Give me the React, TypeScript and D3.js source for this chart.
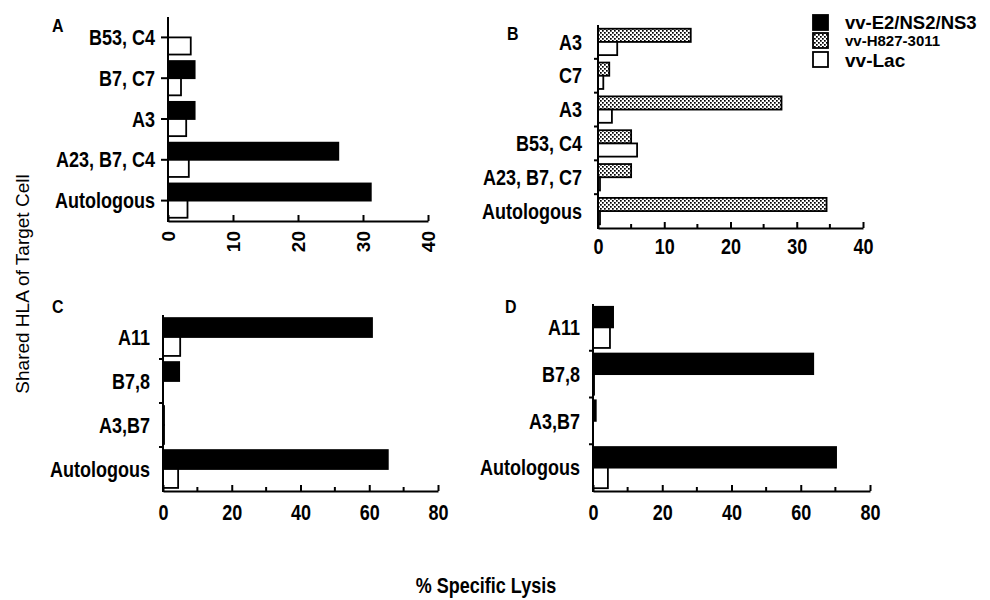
import React, { useEffect, useRef } from "react";
import * as d3 from "d3";

// series
const seriesNames = ["vv-E2/NS2/NS3", "vv-H827-3011", "vv-Lac"];

// panel A
const catsA = ["B53, C4", "B7, C7", "A3", "A23, B7, C4", "Autologous"];
const e2A = [0, 4.1, 4.1, 26.2, 31.2];
const lacA = [3.5, 2, 2.8, 3.2, 3];
const ticksA = [0, 10, 20, 30, 40];

// panel B
const catsB = ["A3", "C7", "A3 ", "B53, C4", "A23, B7, C7", "Autologous"];
const h827B = [14, 1.7, 27.7, 5, 5, 34.5];
const lacB = [2.9, 0.8, 2.1, 5.9, 0.3, 0.3];
const ticksB = [0, 10, 20, 30, 40];
const minorB = [5, 15, 25, 35];

// panel C
const catsC = ["A11", "B7,8", "A3,B7", "Autologous"];
const e2C = [60.8, 4.7, 0.3, 65.4];
const lacC = [5, 0, 0.3, 4.4];

// panel D
const catsD = ["A11", "B7,8", "A3,B7", "Autologous"];
const e2D = [5.8, 63.6, 0.8, 70.2];
const lacD = [4.9, 0.3, 0, 4.3];

const ticksCD = [0, 20, 40, 60, 80];
const minorCD = [10, 30, 50, 70];

const FONT = "'Liberation Sans', Arial, Helvetica, sans-serif";
const STRETCH = 1.18; // scanned type is taller than it is wide

function fillFor(name) {
  if (name === seriesNames[0]) return "#000";
  if (name === seriesNames[1]) return "url(#dots)";
  return "#fff";
}

function drawPanel(svg, p) {
  var g = svg.append("g");
  var x = d3.scaleLinear().domain([0, p.max]).range([p.left, p.right]);
  var y = d3.scaleBand().domain(p.cats).range([p.top, p.bottom]).padding(0);
  var bw = y.bandwidth();
  var inner = d3.scaleBand()
    .domain(p.series.map(function (s) { return s.name; }))
    .range([bw * (1 - p.fill) / 2, bw * (1 + p.fill) / 2]);

  // bars
  p.series.forEach(function (s) {
    g.selectAll(null)
      .data(p.cats)
      .enter().append("rect")
      .attr("x", x(0))
      .attr("y", function (c) { return y(c) + inner(s.name); })
      .attr("width", function (c, i) { return Math.max(0, x(s.values[i]) - x(0)); })
      .attr("height", inner.bandwidth())
      .attr("fill", fillFor(s.name))
      .attr("stroke", "#000")
      .attr("stroke-width", 1.8);
  });

  // x axis
  var xAxis = g.append("g")
    .attr("transform", "translate(0," + p.bottom + ")")
    .call(d3.axisBottom(x).tickValues(p.ticks).tickSize(-6).tickSizeOuter(0));
  xAxis.select(".domain").attr("stroke-width", 2);
  xAxis.selectAll(".tick line").attr("stroke-width", 2);
  xAxis.selectAll("text")
    .attr("font-family", FONT)
    .attr("font-weight", "bold")
    .attr("font-size", 18)
    .attr("fill", "#000");
  if (p.rotate) {
    xAxis.selectAll("text")
      .attr("transform", "rotate(-90)")
      .attr("text-anchor", "end")
      .attr("x", -10)
      .attr("y", 0)
      .attr("dy", "0.36em")
      .attr("font-size", 19);
  } else {
    xAxis.selectAll("text")
      .attr("y", 0)
      .attr("dy", 0)
      .attr("transform", "translate(0," + p.base + ") scale(1," + STRETCH + ")");
  }
  if (p.minor) {
    g.selectAll(null)
      .data(p.minor)
      .enter().append("line")
      .attr("x1", function (d) { return x(d); })
      .attr("x2", function (d) { return x(d); })
      .attr("y1", p.bottom)
      .attr("y2", p.bottom - 4)
      .attr("stroke", "#000")
      .attr("stroke-width", 2);
  }

  // y axis line
  g.append("line")
    .attr("x1", p.left).attr("x2", p.left)
    .attr("y1", p.top).attr("y2", p.bottom + 1)
    .attr("stroke", "#000")
    .attr("stroke-width", 2);

  // y ticks
  var tickYs = p.tickAtCenter
    ? p.cats.map(function (c) { return y(c) + bw / 2; })
    : p.cats.slice(1).map(function (c) { return y(c); });
  g.selectAll(null)
    .data(tickYs)
    .enter().append("line")
    .attr("x1", p.left - (p.tickAtCenter ? 7 : 4))
    .attr("x2", p.left)
    .attr("y1", function (d) { return d; })
    .attr("y2", function (d) { return d; })
    .attr("stroke", "#000")
    .attr("stroke-width", 2);

  // category labels
  g.selectAll(null)
    .data(p.cats)
    .enter().append("text")
    .attr("transform", function (c) {
      return "translate(" + (p.left - p.gap) + "," + (y(c) + bw / 2) + ") scale(1," + STRETCH + ")";
    })
    .attr("dy", "0.36em")
    .attr("text-anchor", "end")
    .attr("font-family", FONT)
    .attr("font-weight", "bold")
    .attr("font-size", 18)
    .text(function (c) { return c.trim(); });

  // panel letter
  g.append("text")
    .attr("transform", "translate(" + p.letterX + "," + p.letterY + ") scale(1," + STRETCH + ")")
    .attr("font-family", FONT)
    .attr("font-weight", "bold")
    .attr("font-size", 16)
    .text(p.letter);
}

export default function App() {
  const ref = useRef(null);

  useEffect(() => {
    var svg = d3.select(ref.current);
    svg.selectAll("*").remove();

    // dotted fill
    var pat = svg.append("defs").append("pattern")
      .attr("id", "dots")
      .attr("patternUnits", "userSpaceOnUse")
      .attr("width", 4)
      .attr("height", 4);
    pat.append("rect").attr("width", 4).attr("height", 4).attr("fill", "#fff");
    pat.append("rect").attr("x", 0).attr("y", 0).attr("width", 1.7).attr("height", 1.7).attr("fill", "#000");
    pat.append("rect").attr("x", 2).attr("y", 2).attr("width", 1.7).attr("height", 1.7).attr("fill", "#000");

    drawPanel(svg, {
      letter: "A", letterX: 52, letterY: 32,
      cats: catsA, max: 40, ticks: ticksA, rotate: true,
      series: [{ name: seriesNames[0], values: e2A }, { name: seriesNames[2], values: lacA }],
      left: 168, right: 428, top: 17, bottom: 221, fill: 0.84, tickAtCenter: true, gap: 13
    });
    drawPanel(svg, {
      letter: "B", letterX: 507, letterY: 40,
      cats: catsB, max: 40, ticks: ticksB, minor: minorB, base: 26,
      series: [{ name: seriesNames[1], values: h827B }, { name: seriesNames[2], values: lacB }],
      left: 598, right: 863, top: 25, bottom: 228, fill: 0.78, tickAtCenter: false, gap: 16
    });
    drawPanel(svg, {
      letter: "C", letterX: 52, letterY: 313,
      cats: catsC, max: 80, ticks: ticksCD, minor: minorCD, base: 29,
      series: [{ name: seriesNames[0], values: e2C }, { name: seriesNames[2], values: lacC }],
      left: 163, right: 438, top: 315, bottom: 491, fill: 0.86, tickAtCenter: false, gap: 13
    });
    drawPanel(svg, {
      letter: "D", letterX: 505, letterY: 313,
      cats: catsD, max: 80, ticks: ticksCD, minor: minorCD, base: 29,
      series: [{ name: seriesNames[0], values: e2D }, { name: seriesNames[2], values: lacD }],
      left: 593, right: 870, top: 304, bottom: 491, fill: 0.88, tickAtCenter: false, gap: 13
    });

    // legend
    var legendY = [15, 33, 52];
    var legendBase = [29, 46, 67];
    var legendSize = [18.5, 15, 19];
    var lg = svg.append("g");
    seriesNames.forEach(function (name, i) {
      lg.append("rect")
        .attr("x", 813).attr("y", legendY[i])
        .attr("width", 15).attr("height", 15)
        .attr("fill", fillFor(name))
        .attr("stroke", "#000")
        .attr("stroke-width", 1.8);
      lg.append("text")
        .attr("x", 845).attr("y", legendBase[i])
        .attr("font-family", FONT)
        .attr("font-weight", "bold")
        .attr("font-size", legendSize[i])
        .text(name);
    });

    // axis titles
    svg.append("text")
      .attr("transform", "translate(29,284) rotate(-90)")
      .attr("text-anchor", "middle")
      .attr("font-family", FONT)
      .attr("font-size", 19)
      .text("Shared HLA of Target Cell");
    svg.append("text")
      .attr("transform", "translate(486,593) scale(1," + STRETCH + ")")
      .attr("text-anchor", "middle")
      .attr("font-family", FONT)
      .attr("font-weight", "bold")
      .attr("font-size", 18)
      .text("% Specific Lysis");
  }, []);

  return (
    <svg ref={ref} width={990} height={600}
      style={{ position: "absolute", left: 0, top: 0, background: "#fff" }}></svg>
  );
}
